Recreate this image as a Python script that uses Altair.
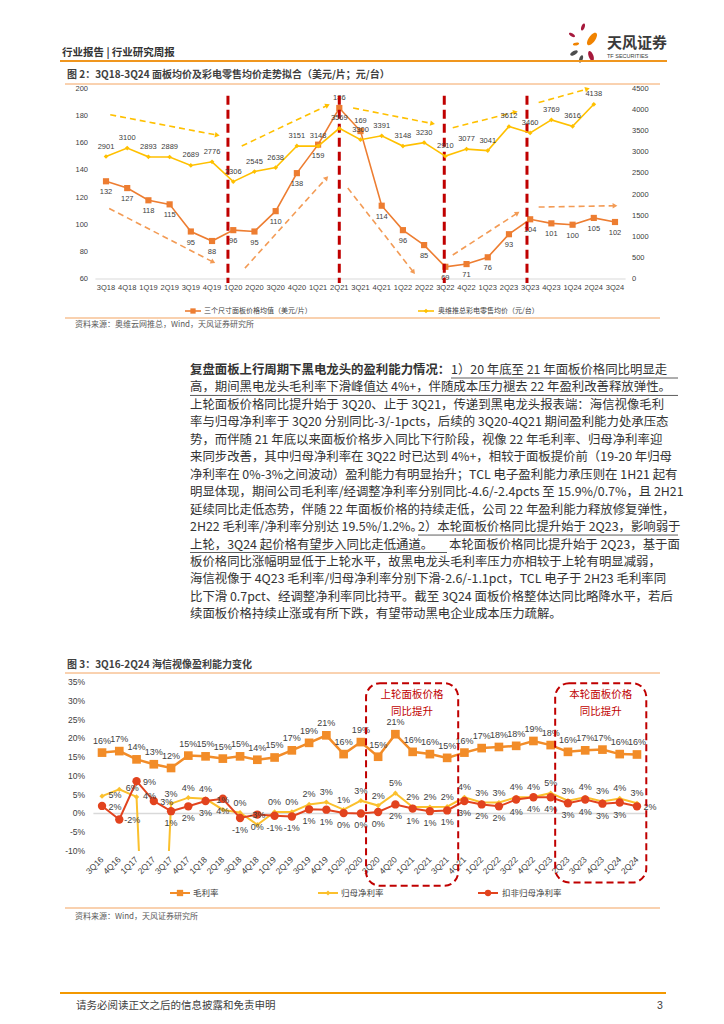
import math
import altair as alt
import pandas as pd

CJK = "Noto Sans CJK SC"
NUM = "Liberation Sans"
TXT = "#333333"
AX = "#404040"

# ---------------- chart 1 data ----------------
quarters_1 = ["3Q18", "4Q18", "1Q19", "2Q19", "3Q19", "4Q19", "1Q20", "2Q20", "3Q20", "4Q20",
              "1Q21", "2Q21", "3Q21", "4Q21", "1Q22", "2Q22", "3Q22", "4Q22", "1Q23", "2Q23",
              "3Q23", "4Q23", "1Q24", "2Q24", "3Q24"]
panel_price = [132, 127, 118, 115, 95, 88, 96, 95, 110, 138, 159, 186, 169, 114, 96, 85, 69, 71,
               76, 93, 104, 101, 100, 105, 102]
tv_price = [2901, 3100, 2893, 2889, 2689, 2776, 2306, 2545, 2638, 3151, 3148, 3569, 3300, 3391,
            3148, 3230, 2910, 3077, 3041, 3612, 3460, 3769, 3616, 4138, None]
left_ticks = [60, 80, 100, 120, 140, 160, 180, 200]
right_ticks = [0, 500, 1000, 1500, 2000, 2500, 3000, 3500, 4000, 4500]
panel_labels_above = ["2Q21", "3Q21"]
split_lines_1 = [5.75, 11.0, 15.95, 19.85]
trend_yellow = [(0.2, 181, 5.25, 166), (6.4, 158, 10.45, 188), (11.65, 186, 15.4, 174.5),
                (16.35, 171.5, 19.3, 183), (20.4, 190, 22.7, 200)]
trend_orange = [(0.15, 112, 5.05, 72.5), (6.55, 68, 10.4, 134.5), (11.4, 127, 14.5, 65),
                (16.35, 77.7, 19.4, 108.6), (20.4, 113, 24.0, 114)]

# ---------------- chart 2 data ----------------
quarters_2 = ["3Q16", "4Q16", "1Q17", "2Q17", "3Q17", "4Q17", "1Q18", "2Q18", "3Q18", "4Q18",
              "1Q19", "2Q19", "3Q19", "4Q19", "1Q20", "2Q20", "3Q20", "4Q20", "1Q21", "2Q21",
              "3Q21", "4Q21", "1Q22", "2Q22", "3Q22", "4Q22", "1Q23", "2Q23", "3Q23", "4Q23",
              "1Q24", "2Q24"]
gross_margin = [16.2, 16.6, 14.4, 13.1, 12.1, 15.4, 15.2, 14.6, 15.2, 14.3, 14.9, 16.8, 18.8, 20.8,
                15.8, 19.0, 15.1, 21.1, 16.4, 15.8, 14.8, 16.2, 17.4, 17.7, 18.0, 19.3, 18.2, 16.4,
                16.8, 17.0, 15.8, 15.7]
net_margin = [4.6, 6.4, 4.4, -100.0, 2.6, 4.2, 3.9, 1.0, 0.2, -3.0, 0.4, 0.4, 2.4, 3.0, 1.0, 3.4,
              2.1, 5.4, 1.7, 1.7, 1.8, 4.3, 2.9, 2.9, 4.3, 4.4, 5.4, 3.4, 4.3, 3.2, 4.0, 2.7]
adj_net_margin = [2.0, -1.6, 8.6, 3.3, 0.6, 1.9, 3.3, 3.9, -1.2, -0.3, -0.6, -0.8, 1.1, 1.0, 0.1,
                  0.0, 0.4, 2.4, 1.3, 0.6, 0.8, 3.3, 2.4, 1.9, 3.7, 4.3, 4.3, 2.7, 3.7, 2.6, 2.9, 1.9]
pct_ticks = [-10, -5, 0, 5, 10, 15, 20, 25, 30, 35]
net_labels_right = ["3Q16", "4Q16", "1Q17"]
adj_labels_right = ["3Q16", "4Q16", "1Q17", "2Q17", "2Q24"]
box_1 = (15.3, 20.64, 34.7, -19.25)
box_2 = (26.26, 31.54, 34.7, -18.4)
box_texts = [(17.97, 31.5, "上轮面板价格"), (17.97, 27.0, "同比提升"),
             (28.9, 31.5, "本轮面板价格"), (28.9, 27.0, "同比提升")]

paragraph = [
    "",
    "高，期间黑电龙头毛利率下滑峰值达 4%+，伴随成本压力褪去 22 年盈利改善释放弹性。",
    "上轮面板价格同比提升始于 3Q20、止于 3Q21，传递到黑电龙头报表端：海信视像毛利",
    "率与归母净利率于 3Q20 分别同比-3/-1pcts，后续的 3Q20-4Q21 期间盈利能力处承压态",
    "势，而伴随 21 年底以来面板价格步入同比下行阶段，视像 22 年毛利率、归母净利率迎",
    "来同步改善，其中归母净利率在 3Q22 时已达到 4%+，相较于面板提价前（19-20 年归母",
    "净利率在 0%-3%之间波动）盈利能力有明显抬升；TCL 电子盈利能力承压则在 1H21 起有",
    "明显体现，期间公司毛利率/经调整净利率分别同比-4.6/-2.4pcts 至 15.9%/0.7%，且 2H21",
    "延续同比走低态势，伴随 22 年面板价格的持续走低，公司 22 年盈利能力释放修复弹性，",
    "2H22 毛利率/净利率分别达 19.5%/1.2%。",
    "上轮，3Q24 起价格有望步入同比走低通道。",
    "板价格同比涨幅明显低于上轮水平，故黑电龙头毛利率压力亦相较于上轮有明显减弱，",
    "海信视像于 4Q23 毛利率/归母净利率分别下滑-2.6/-1.1pct，TCL 电子于 2H23 毛利率同",
    "比下滑 0.7pct、经调整净利率同比持平。截至 3Q24 面板价格整体达同比略降水平，若后",
    "续面板价格持续止涨或有所下跌，有望带动黑电企业成本压力疏解。",
]
para_bold = "复盘面板上行周期下黑电龙头的盈利能力情况："
para_l1_rest = "1）20 年底至 21 年面板价格同比明显走"
para_l10_rest = "2）本轮面板价格同比提升始于 2Q23，影响弱于"
para_l11_rest = "本轮面板价格同比提升始于 2Q23，基于面"


# ---------------- helpers ----------------
def txt(rows, size, color=TXT, weight="normal", font=CJK, align="left", baseline="middle"):
    df = pd.DataFrame(rows, columns=["x", "y", "t"])
    return alt.Chart(df).mark_text(fontSize=size, color=color, fontWeight=weight, font=font,
                                   align=align, baseline=baseline).encode(
        x=alt.X("x:Q", scale=None, axis=None),
        y=alt.Y("y:Q", scale=None, axis=None),
        text=alt.Text("t:N"))


def rules(rows):
    df = pd.DataFrame(rows, columns=["x1", "x2", "y1", "y2", "c", "w"])
    return alt.Chart(df).mark_rule().encode(
        x=alt.X("x1:Q", scale=None, axis=None), x2="x2:Q",
        y=alt.Y("y1:Q", scale=None, axis=None), y2="y2:Q",
        color=alt.Color("c:N", scale=None),
        strokeWidth=alt.StrokeWidth("w:Q", scale=None))


def marks(rows, shape, size):
    df = pd.DataFrame(rows, columns=["x", "y", "c"])
    return alt.Chart(df).mark_point(shape=shape, filled=True, size=size, opacity=1).encode(
        x=alt.X("x:Q", scale=None, axis=None),
        y=alt.Y("y:Q", scale=None, axis=None),
        color=alt.Color("c:N", scale=None))


def in_list(field, lst, neg=False):
    return "indexof(%s, datum.%s) %s 0" % (str(lst), field, "<" if neg else ">=")


PETAL = "M0,-1C0.6,-1 0.6,1 0,1C-0.6,1 -0.6,-1 0,-1Z"
FS_P = 12.4

# =============== PANEL 1 (page y 8..682) ===============
L1 = []
L1.append(txt([(54, 45, "行业报告 | 行业研究周报")], 10.5, weight="bold"))
logo = pd.DataFrame([
    (575, 19, "#A6193C", 55, 20), (564, 27, "#A6193C", 45, 300),
    (584, 31, "#F08300", 210, 35), (568, 36, "#F08300", 40, 80),
    (566, 45, "#4D4D4D", 70, 60), (573, 51, "#4D4D4D", 60, 20),
    (583, 48, "#A6193C", 110, 340)], columns=["x", "y", "c", "s", "a"])
L1.append(alt.Chart(logo).mark_point(shape=PETAL, filled=True, opacity=1).encode(
    x=alt.X("x:Q", scale=None, axis=None), y=alt.Y("y:Q", scale=None, axis=None),
    color=alt.Color("c:N", scale=None), size=alt.Size("s:Q", scale=None),
    angle=alt.Angle("a:Q", scale=None)))
L1.append(txt([(599, 35, "天风证券")], 15, weight="bold", color="#3A3A3A"))
L1.append(txt([(599, 48, "TF SECURITIES")], 5.5, color="#3A3A3A", font=NUM))
L1.append(rules([(52, 659, 53, 53, "#F0961E", 2),
                 (57, 652, 76, 76, "#F4A460", 1),
                 (57, 652, 310, 310, "#F4A460", 1.2),
                 (57, 652, 665, 665, "#F4A460", 1)]))
L1.append(txt([(59, 67, "图 2：3Q18-3Q24 面板均价及彩电零售均价走势拟合（美元/片；元/台）"),
               (59, 657, "图 3：3Q16-2Q24 海信视像盈利能力变化")], 10, weight="bold", color="#404040"))
L1.append(txt([(67, 317, "资料来源：奥维云网推总，Wind，天风证券研究所")], 8, color="#595959"))

C_OR1 = "#ED7D31"
C_YE1 = "#FFC000"
L1.append(rules([(177, 193, 303, 303, C_OR1, 1.6), (410, 426, 303, 303, C_YE1, 1.6)]))
L1.append(marks([(185, 303, C_OR1)], "square", 28))
L1.append(marks([(418, 303, C_YE1)], "diamond", 22))
L1.append(txt([(196, 303, "三个尺寸面板价格均值（美元/片）"), (430, 303, "奥维推总彩电零售均价（元/台）")],
              7, color="#404040"))

# paragraph
PY0, PDY = 362, 17.45
para_rows = [(182, PY0 + k * PDY, s) for k, s in enumerate(paragraph) if s]
para_rows.append((443, PY0, para_l1_rest))
para_rows.append((410, PY0 + 9 * PDY, para_l10_rest))
para_rows.append((441, PY0 + 10 * PDY, para_l11_rest))
L1.append(txt(para_rows, FS_P, color=TXT))
L1.append(txt([(182, PY0, para_bold)], FS_P, weight="bold", color=TXT))
L1.append(rules([(443, 670, PY0 + 8, PY0 + 8, TXT, 0.8),
                 (182, 670, PY0 + PDY + 8, PY0 + PDY + 8, TXT, 0.8),
                 (410, 670, PY0 + 9 * PDY + 8, PY0 + 9 * PDY + 8, TXT, 0.8),
                 (182, 439, PY0 + 10 * PDY + 8, PY0 + 10 * PDY + 8, TXT, 0.8)]))

# ---- chart 1 proper ----
d1 = pd.DataFrame({"q": quarters_1, "i": list(range(len(quarters_1))),
                   "panel": panel_price, "tv": tv_price})
xs1 = alt.Scale(domain=[-0.5, 24.5], range=[87.4, 617.6], nice=False, zero=False)
yl = alt.Scale(domain=[60, 200], range=[271, 81], nice=False, zero=False)
yr = alt.Scale(domain=[0, 4500], range=[271, 81], nice=False, zero=False)
b1 = alt.Chart(d1)
xi1 = alt.X("i:Q", scale=xs1, axis=None)
ypan = alt.Y("panel:Q", scale=yl, axis=None)
ytv = alt.Y("tv:Q", scale=yr, axis=None)

kx, ky = 530.2 / 25.0, 190.0 / 140.0
arr = []
for c, lst in (("#FFC000", trend_yellow), ("#F39B55", trend_orange)):
    for (x1, y1, x2, y2) in lst:
        a = math.degrees(math.atan2((x2 - x1) * kx, (y2 - y1) * ky)) % 360
        arr.append({"x1": x1, "y1": y1, "x2": x2, "y2": y2, "c": c, "a": a})
arr = pd.DataFrame(arr)

left1 = alt.layer(
    alt.Chart(pd.DataFrame({"v": [60]})).mark_rule(color="#D9D9D9", strokeWidth=1).encode(
        x=alt.X(datum=-0.5, type="quantitative", scale=xs1, axis=None), x2=alt.X2(datum=24.5),
        y=alt.Y("v:Q", scale=yl, axis=None)),
    alt.Chart(pd.DataFrame({"v": left_ticks})).mark_text(
        align="right", baseline="middle", fontSize=7.5, font=NUM, color=AX).encode(
        x=alt.value(80), y=alt.Y("v:Q", scale=yl, axis=None), text="v:Q"),
    b1.mark_text(fontSize=7.5, font=NUM, color=AX, baseline="middle").encode(
        x=xi1, y=alt.value(280), text="q:N"),
    alt.Chart(arr).mark_rule(strokeDash=[6, 4], strokeWidth=1.6).encode(
        x=alt.X("x1:Q", scale=xs1, axis=None), x2="x2:Q",
        y=alt.Y("y1:Q", scale=yl, axis=None), y2="y2:Q",
        color=alt.Color("c:N", scale=None)),
    alt.Chart(arr).mark_point(shape="triangle-up", filled=True, size=30, opacity=1).encode(
        x=alt.X("x2:Q", scale=xs1, axis=None), y=alt.Y("y2:Q", scale=yl, axis=None),
        color=alt.Color("c:N", scale=None), angle=alt.Angle("a:Q", scale=None)),
    b1.mark_line(color=C_OR1, strokeWidth=1.6).encode(x=xi1, y=ypan),
    b1.mark_point(shape="square", filled=True, size=38, color=C_OR1, opacity=1).encode(x=xi1, y=ypan),
    b1.transform_filter(in_list("q", panel_labels_above, neg=True)).mark_text(
        dy=11, fontSize=7.5, font=NUM, color=AX).encode(x=xi1, y=ypan, text=alt.Text("panel:Q", format="d")),
    b1.transform_filter(in_list("q", panel_labels_above)).mark_text(
        dy=-10, fontSize=7.5, font=NUM, color=AX).encode(x=xi1, y=ypan, text=alt.Text("panel:Q", format="d")),
    alt.Chart(pd.DataFrame({"p": split_lines_1})).mark_rule(
        color="#C00000", strokeWidth=3, strokeDash=[9, 5]).encode(
        x=alt.X("p:Q", scale=xs1, axis=None),
        y=alt.Y(datum=195, type="quantitative", scale=yl, axis=None), y2=alt.Y2(datum=57)),
)

right1 = alt.layer(
    alt.Chart(pd.DataFrame({"v": right_ticks})).mark_text(
        align="left", baseline="middle", fontSize=7.5, font=NUM, color=AX).encode(
        x=alt.value(624), y=alt.Y("v:Q", scale=yr, axis=None), text="v:Q"),
    b1.mark_line(color=C_YE1, strokeWidth=1.6).encode(x=xi1, y=ytv),
    b1.mark_point(shape="diamond", filled=True, size=22, color=C_YE1, opacity=1).encode(x=xi1, y=ytv),
    b1.mark_text(dy=-10, fontSize=7.5, font=NUM, color=AX).encode(
        x=xi1, y=ytv, text=alt.Text("tv:Q", format="d")),
)

panel1 = alt.layer(*L1, left1, right1).resolve_scale(
    x="independent", y="independent").properties(width=708, height=674)

# =============== PANEL 2 (page y 682..) ===============
C_OR2 = "#F28C28"
C_YE2 = "#FBC02D"
C_RD2 = "#E2431E"
d2 = pd.DataFrame({"q": quarters_2, "i": list(range(len(quarters_2))), "gross": gross_margin,
                   "net": net_margin, "adj": adj_net_margin})
xs2 = alt.Scale(domain=[-0.5, 31.5], range=[85.4, 637.6], nice=False, zero=False)
ys2 = alt.Scale(domain=[-10, 35], range=[169, 0], nice=False, zero=False)
b2 = alt.Chart(d2)
xi2 = alt.X("i:Q", scale=xs2, axis=None)
yg = alt.Y("gross:Q", scale=ys2, axis=None)
yn = alt.Y("net:Q", scale=ys2, axis=None)
ya = alt.Y("adj:Q", scale=ys2, axis=None)
boxes = pd.DataFrame([box_1, box_2], columns=["x1", "x2", "y1", "y2"])
btxt = pd.DataFrame(box_texts, columns=["x", "y", "t"])
lab_style = dict(fontSize=9, font=NUM, color=AX)

chart2 = alt.layer(
    alt.Chart(pd.DataFrame({"v": pct_ticks})).transform_calculate(lab="datum.v + '%'").mark_text(
        align="right", baseline="middle", fontSize=8.5, font=NUM, color=AX).encode(
        x=alt.value(77), y=alt.Y("v:Q", scale=ys2, axis=None), text="lab:N"),
    alt.Chart(pd.DataFrame({"v": [0]})).mark_rule(color="#D9D9D9", strokeWidth=1.5).encode(
        x=alt.X(datum=-0.5, type="quantitative", scale=xs2, axis=None), x2=alt.X2(datum=31.5),
        y=alt.Y("v:Q", scale=ys2, axis=None)),
    b2.mark_text(angle=315, align="right", baseline="middle", fontSize=8.5, font=NUM, color=AX).encode(
        x=xi2, y=alt.value(176), text="q:N"),
    b2.mark_line(color=C_OR2, strokeWidth=2.5).encode(x=xi2, y=yg),
    b2.mark_point(shape="square", filled=True, size=75, color=C_OR2, opacity=1).encode(x=xi2, y=yg),
    b2.mark_line(color=C_YE2, strokeWidth=2, clip=True).encode(x=xi2, y=yn),
    b2.mark_point(shape="diamond", filled=True, size=28, color=C_YE2, opacity=1, clip=True).encode(x=xi2, y=yn),
    b2.mark_line(color=C_RD2, strokeWidth=2).encode(x=xi2, y=ya),
    b2.mark_point(shape="circle", filled=True, size=70, color=C_RD2, opacity=1).encode(x=xi2, y=ya),
    b2.transform_calculate(lab="round(datum.gross) + '%'").mark_text(
        dy=-12, **lab_style).encode(x=xi2, y=yg, text="lab:N"),
    b2.transform_filter("datum.net > -10").transform_filter(in_list("q", net_labels_right, neg=True))
      .transform_calculate(lab="round(datum.net) + '%'").mark_text(
        dy=-10, **lab_style).encode(x=xi2, y=yn, text="lab:N"),
    b2.transform_filter(in_list("q", net_labels_right))
      .transform_calculate(lab="round(datum.net) + '%'").mark_text(
        dx=13, dy=-1, **lab_style).encode(x=xi2, y=yn, text="lab:N"),
    b2.transform_filter(in_list("q", adj_labels_right, neg=True))
      .transform_calculate(lab="round(datum.adj) + '%'").mark_text(
        dy=12, **lab_style).encode(x=xi2, y=ya, text="lab:N"),
    b2.transform_filter(in_list("q", adj_labels_right))
      .transform_calculate(lab="round(datum.adj) + '%'").mark_text(
        dx=13, dy=1, **lab_style).encode(x=xi2, y=ya, text="lab:N"),
    alt.Chart(boxes).mark_rect(fillOpacity=0, stroke="#C00000", strokeWidth=2,
                               strokeDash=[7, 4], cornerRadius=14).encode(
        x=alt.X("x1:Q", scale=xs2, axis=None), x2="x2:Q",
        y=alt.Y("y1:Q", scale=ys2, axis=None), y2="y2:Q"),
    alt.Chart(btxt).mark_text(fontSize=10.5, font=CJK, color="#C00000").encode(
        x=alt.X("x:Q", scale=xs2, axis=None), y=alt.Y("y:Q", scale=ys2, axis=None), text="t:N"),
)

L2 = []
L2.append(rules([(162, 182, 211, 211, C_OR2, 2), (310, 330, 211, 211, C_YE2, 2),
                 (470, 490, 211, 211, C_RD2, 2),
                 (57, 652, 226, 226, "#F4A460", 1.2),
                 (52, 658, 311, 311, "#F39800", 2)]))
L2.append(marks([(172, 211, C_OR2)], "square", 40))
L2.append(marks([(320, 211, C_YE2)], "diamond", 25))
L2.append(marks([(480, 211, C_RD2)], "circle", 40))
L2.append(txt([(185, 211, "毛利率"), (333, 211, "归母净利率"), (494, 211, "扣非归母净利率")], 8.5,
              color="#404040"))
L2.append(txt([(67, 235, "资料来源：Wind，天风证券研究所")], 8, color="#595959"))
L2.append(txt([(68, 324, "请务必阅读正文之后的信息披露和免责申明")], 10.5, color="#404040"))
L2.append(txt([(652, 324, "3")], 10.5, color="#404040", font=NUM, align="center"))

panel2 = alt.layer(*L2, chart2).resolve_scale(
    x="independent", y="independent").properties(width=708, height=169)

page = alt.vconcat(panel1, panel2, spacing=0, bounds="flush").properties(
    padding=0).configure_view(strokeWidth=0)
page.save("out.html", embed_options={"renderer": "svg", "actions": False})
